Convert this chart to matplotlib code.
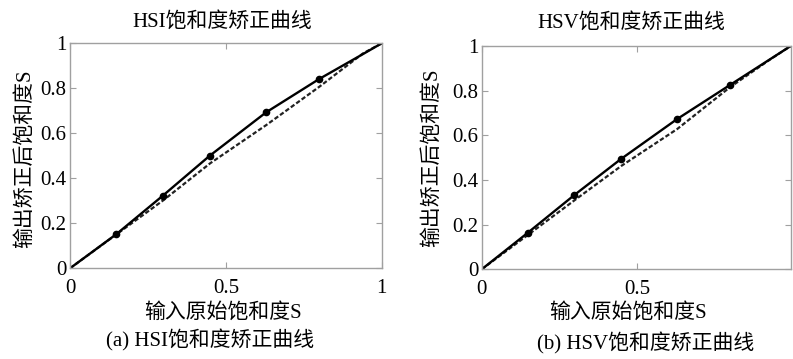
import matplotlib
matplotlib.use("Agg")
import matplotlib.pyplot as plt
import numpy as np

plt.rcParams['font.family'] = ['Liberation Serif', 'Noto Sans CJK SC', 'DejaVu Sans']

# ---- data ----
hsi_curve_x = [0.0, 0.149, 0.298, 0.448, 0.629, 0.799, 0.936, 1.0]
hsi_curve_y = [0.0, 0.152, 0.323, 0.500, 0.693, 0.841, 0.949, 1.0]
hsi_mark_x = [0.149, 0.298, 0.448, 0.629, 0.799]
hsi_mark_y = [0.152, 0.323, 0.500, 0.693, 0.841]
hsi_ref_x = [0.0, 0.15, 0.30, 0.45, 0.63, 0.80, 0.94, 1.0]
hsi_ref_y = [0.0, 0.152, 0.303, 0.467, 0.637, 0.807, 0.955, 1.0]

hsv_curve_x = [0.0, 0.148, 0.299, 0.448, 0.629, 0.801, 0.996]
hsv_curve_y = [0.0, 0.163, 0.333, 0.493, 0.672, 0.826, 1.0]
hsv_mark_x = [0.148, 0.299, 0.448, 0.629, 0.801]
hsv_mark_y = [0.163, 0.333, 0.493, 0.672, 0.826]
hsv_ref_x = [0.0, 0.15, 0.30, 0.45, 0.63, 0.80, 0.93, 0.996]
hsv_ref_y = [0.0, 0.155, 0.310, 0.463, 0.628, 0.815, 0.940, 1.0]

y_ticks = [0, 0.2, 0.4, 0.6, 0.8, 1]
y_tick_labels = ['0', '0.2', '0.4', '0.6', '0.8', '1']
hsi_x_ticks = [0, 0.5, 1]
hsi_x_tick_labels = ['0', '0.5', '1']
hsv_x_ticks = [0, 0.5]
hsv_x_tick_labels = ['0', '0.5']
hsv_xmax = 0.996

titles = ['HSI饱和度矫正曲线', 'HSV饱和度矫正曲线']
xlabel = '输入原始饱和度S'
ylabel = '输出矫正后饱和度S'
captions = ['(a) HSI饱和度矫正曲线', '(b) HSV饱和度矫正曲线']

W, H = 793, 359
fig = plt.figure(figsize=(W / 100, H / 100), dpi=100)

def px(x0, y0, x1, y1):
    return [x0 / W, 1 - y1 / H, (x1 - x0) / W, (y1 - y0) / H]

ax1 = fig.add_axes(px(70, 43.3, 381.7, 268.3))
ax2 = fig.add_axes(px(481.7, 46, 790.7, 269.3))

FS = 15
grey = '#a0a0a0'

def style(ax, xticks, xlabels, xmax):
    ax.set_xlim(0, xmax)
    ax.set_ylim(0, 1)
    ax.set_xticks(xticks)
    ax.set_xticklabels(xlabels)
    ax.set_yticks(y_ticks)
    ax.set_yticklabels(y_tick_labels)
    for s in ax.spines.values():
        s.set_color(grey)
        s.set_linewidth(1.0)
    ax.tick_params(axis='both', direction='in', length=4, width=0.8,
                   color=grey, labelsize=FS, top=True, right=True)
    ax.tick_params(axis='x', pad=8)
    ax.tick_params(axis='y', pad=2.5)

def draw(ax, cx, cy, mx, my, rx, ry):
    ax.plot(rx, ry, color='#222222', lw=1.6, linestyle=(0, (2, 1)))
    ax.plot(cx, cy, color='black', lw=1.7)
    ax.plot(mx, my, 'o', color='black', markersize=4.5)

draw(ax1, hsi_curve_x, hsi_curve_y, hsi_mark_x, hsi_mark_y, hsi_ref_x, hsi_ref_y)
draw(ax2, hsv_curve_x, hsv_curve_y, hsv_mark_x, hsv_mark_y, hsv_ref_x, hsv_ref_y)
style(ax1, hsi_x_ticks, hsi_x_tick_labels, 1.0)
style(ax2, hsv_x_ticks, hsv_x_tick_labels, hsv_xmax)

def ftext(x, y, s, **kw):
    fig.text(x / W, 1 - y / H, s, fontsize=FS, **kw)

ftext(222.5, 26.7, titles[0], ha='center', va='baseline')
ftext(631.7, 27.3, titles[1], ha='center', va='baseline')
ftext(223, 318, xlabel, ha='center', va='baseline')
ftext(628, 318, xlabel, ha='center', va='baseline')
ftext(210, 346.7, captions[0], ha='center', va='baseline')
ftext(645.8, 349.3, captions[1], ha='center', va='baseline')
ftext(25, 159, ylabel, ha='center', va='center', rotation=90)
ftext(431.7, 157.5, ylabel, ha='center', va='center', rotation=90)

fig.savefig('out.png', dpi=100)
